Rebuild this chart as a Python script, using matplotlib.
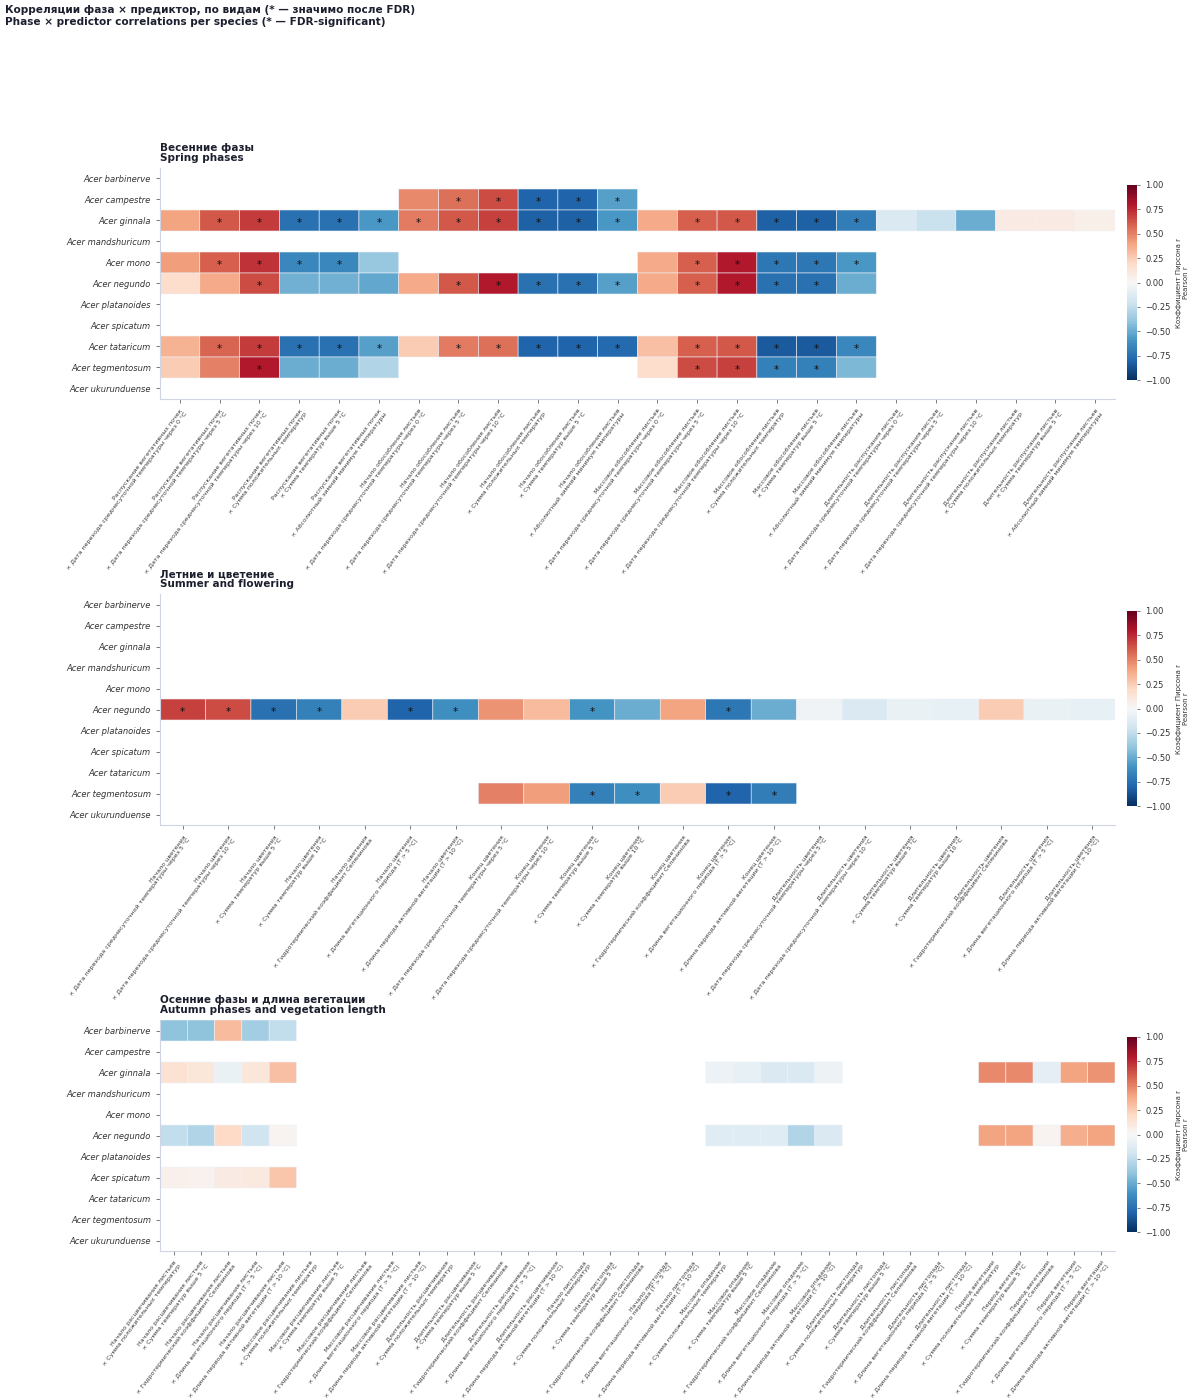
import numpy as np
import matplotlib
matplotlib.use("Agg")
import matplotlib.pyplot as plt

N = np.nan

species = ["Acer barbinerve", "Acer campestre", "Acer ginnala", "Acer mandshuricum",
           "Acer mono", "Acer negundo", "Acer platanoides", "Acer spicatum",
           "Acer tataricum", "Acer tegmentosum", "Acer ukurunduense"]

# --- spring phases ---
spring_phases = ["Распускание вегетативных почек", "Начало обособления листьев",
                 "Массовое обособление листьев", "Длительность распускания листьев"]
spring_predictors = ["Дата перехода среднесуточной температуры через 0 °C",
                     "Дата перехода среднесуточной температуры через 5 °C",
                     "Дата перехода среднесуточной температуры через 10 °C",
                     "Сумма положительных температур",
                     "Сумма температур выше 5 °C",
                     "Абсолютный зимний минимум температуры"]
spring_r = {
    "Acer campestre": [N] * 6 + [0.48, 0.55, 0.65, -0.80, -0.80, -0.55] + [N] * 12,
    "Acer ginnala": [0.40, 0.62, 0.70, -0.75, -0.75, -0.58, 0.52, 0.62, 0.68, -0.82, -0.82, -0.58,
                     0.38, 0.60, 0.62, -0.82, -0.82, -0.70, -0.15, -0.22, -0.50, 0.08, 0.08, 0.06],
    "Acer mono": [0.42, 0.60, 0.72, -0.65, -0.65, -0.38] + [N] * 6
                 + [0.38, 0.60, 0.80, -0.72, -0.72, -0.58] + [N] * 6,
    "Acer negundo": [0.18, 0.38, 0.65, -0.48, -0.48, -0.52, 0.38, 0.62, 0.80, -0.75, -0.75, -0.55,
                     0.38, 0.60, 0.80, -0.75, -0.75, -0.50] + [N] * 6,
    "Acer tataricum": [0.35, 0.58, 0.70, -0.75, -0.75, -0.55, 0.25, 0.52, 0.55, -0.80, -0.80, -0.78,
                       0.30, 0.60, 0.62, -0.84, -0.84, -0.65] + [N] * 6,
    "Acer tegmentosum": [0.25, 0.50, 0.80, -0.50, -0.50, -0.30] + [N] * 6
                        + [0.18, 0.65, 0.68, -0.68, -0.68, -0.45] + [N] * 6,
}
spring_sig = {
    "Acer campestre": [7, 8, 9, 10, 11],
    "Acer ginnala": [1, 2, 3, 4, 5, 6, 7, 8, 9, 10, 11, 13, 14, 15, 16, 17],
    "Acer mono": [1, 2, 3, 4, 13, 14, 15, 16, 17],
    "Acer negundo": [2, 7, 8, 9, 10, 11, 13, 14, 15, 16],
    "Acer tataricum": [1, 2, 3, 4, 5, 7, 8, 9, 10, 11, 13, 14, 15, 16, 17],
    "Acer tegmentosum": [2, 13, 14, 15, 16],
}

# --- summer / flowering ---
summer_phases = ["Начало цветения", "Конец цветения", "Длительность цветения"]
summer_predictors = ["Дата перехода среднесуточной температуры через 5 °C",
                     "Дата перехода среднесуточной температуры через 10 °C",
                     "Сумма температур выше 5 °C",
                     "Сумма температур выше 10 °C",
                     "Гидротермический коэффициент Селянинова",
                     "Длина вегетационного периода (T > 5 °C)",
                     "Длина периода активной вегетации (T > 10 °C)"]
summer_r = {
    "Acer negundo": [0.68, 0.65, -0.75, -0.68, 0.25, -0.80, -0.62,
                     0.45, 0.32, -0.60, -0.50, 0.40, -0.72, -0.50,
                     -0.04, -0.15, -0.07, -0.08, 0.25, -0.07, -0.08],
    "Acer tegmentosum": [N] * 7 + [0.50, 0.42, -0.68, -0.62, 0.25, -0.80, -0.70] + [N] * 7,
}
summer_sig = {
    "Acer negundo": [0, 1, 2, 3, 5, 6, 9, 12],
    "Acer tegmentosum": [9, 10, 12, 13],
}

# --- autumn + vegetation length ---
autumn_phases = ["Начало расцвечивания листьев", "Массовое расцвечивание листьев",
                 "Длительность расцвечивания", "Начало листопада", "Массовое опадение",
                 "Длительность листопада", "Период вегетации"]
autumn_predictors = ["Сумма положительных температур",
                     "Сумма температур выше 5 °C",
                     "Гидротермический коэффициент Селянинова",
                     "Длина вегетационного периода (T > 5 °C)",
                     "Длина периода активной вегетации (T > 10 °C)"]
autumn_r = {
    "Acer barbinerve": [-0.40, -0.40, 0.32, -0.35, -0.25] + [N] * 30,
    "Acer ginnala": [0.15, 0.12, -0.07, 0.12, 0.30] + [N] * 15
                    + [-0.06, -0.08, -0.15, -0.15, -0.05] + [N] * 5
                    + [0.48, 0.48, -0.10, 0.40, 0.45],
    "Acer negundo": [-0.25, -0.30, 0.20, -0.20, 0.03] + [N] * 15
                    + [-0.12, -0.12, -0.12, -0.30, -0.15] + [N] * 5
                    + [0.40, 0.40, 0.03, 0.36, 0.40],
    "Acer spicatum": [0.05, 0.04, 0.08, 0.10, 0.28] + [N] * 30,
}
autumn_sig = {}

panels = [
    ("Весенние фазы\nSpring phases", spring_phases, spring_predictors, spring_r, spring_sig, 168),
    ("Летние и цветение\nSummer and flowering", summer_phases, summer_predictors, summer_r, summer_sig, 594),
    ("Осенние фазы и длина вегетации\nAutumn phases and vegetation length",
     autumn_phases, autumn_predictors, autumn_r, autumn_sig, 1020),
]

W, H = 1194, 1400
TXT = "#1c1f2e"
SPINE = "#cfd5e5"


def rect(l, t, r, b):
    return [l / W, 1 - b / H, (r - l) / W, (b - t) / H]


fig = plt.figure(figsize=(W / 100, H / 100), dpi=100)
fig.text(5 / W, 1 - 5 / H,
         "Корреляции фаза × предиктор, по видам (* — значимо после FDR)\n"
         "Phase × predictor correlations per species (* — FDR-significant)",
         ha="left", va="top", fontsize=7.6, fontweight="bold", color=TXT, linespacing=1.25)

for title, phases, preds, rdict, sig, top in panels:
    labels = [f"{ph}\n× {pr}" for ph in phases for pr in preds]
    ncol = len(labels)
    M = np.full((len(species), ncol), np.nan)
    for sp, row in rdict.items():
        M[species.index(sp)] = row

    ax = fig.add_axes(rect(160, top, 1115, top + 231))
    cax = fig.add_axes(rect(1127, top + 17, 1137, top + 212))

    # pcolor skips masked cells, so empty cells stay plain white
    mesh = ax.pcolor(np.ma.masked_invalid(M), cmap="RdBu_r", vmin=-1, vmax=1,
                     edgecolors="#eef1f8", linewidth=0.4)
    for sp, cols in sig.items():
        i = species.index(sp)
        for j in cols:
            ax.text(j + 0.5, i + 0.6, "*", ha="center", va="center", fontsize=7.5, color="#111")

    ax.set_xlim(0, ncol)
    ax.set_ylim(len(species), 0)
    ax.set_xticks(np.arange(ncol) + 0.5)
    ax.set_xticklabels(labels, rotation=53, ha="right", rotation_mode="anchor",
                       fontsize=4.5, color="#3a3a3a")
    ax.set_yticks(np.arange(len(species)) + 0.5)
    ax.set_yticklabels(species, fontsize=6, style="italic", color="#333")
    ax.tick_params(length=3, width=0.6, color="#666")
    for s in ["top", "right"]:
        ax.spines[s].set_visible(False)
    for s in ["left", "bottom"]:
        ax.spines[s].set_color(SPINE)
        ax.spines[s].set_linewidth(0.8)
    ax.set_title(title, loc="left", fontsize=7.5, fontweight="bold", color=TXT,
                 pad=5, linespacing=1.0)

    cb = fig.colorbar(mesh, cax=cax)
    cb.outline.set_visible(False)
    cb.set_ticks(np.arange(-1, 1.01, 0.25))
    cb.ax.tick_params(labelsize=6, length=2.5, width=0.6, color="#666", labelcolor="#333")
    cb.set_label("Коэффициент Пирсона r\nPearson r", fontsize=5, color="#333")

fig.savefig("out.png", dpi=100, facecolor="white")
